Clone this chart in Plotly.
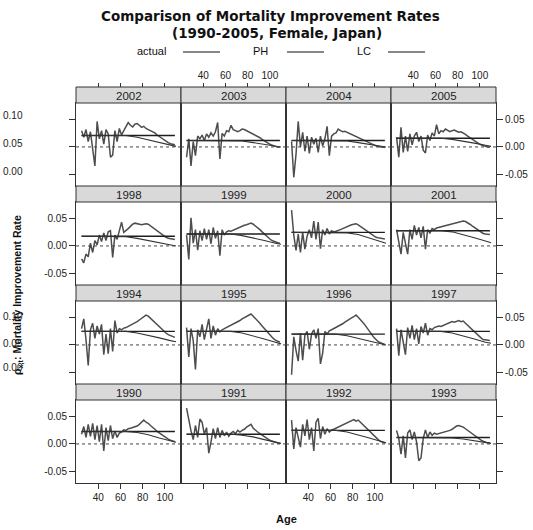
import plotly.graph_objects as go

# ---------------- data ----------------
ages = list(range(25, 110, 2))  # 25,27,...,109 (43 ages)
lc_ages = [25, 65, 75, 85, 95, 105, 110]
ph_ages = [25, 109]

panel_years = [[2002, 2003, 2004, 2005],
               [1998, 1999, 2000, 2001],
               [1994, 1995, 1996, 1997],
               [1990, 1991, 1992, 1993]]

x_ticks = [40, 60, 80, 100]
y_ticks = [-0.05, 0.0, 0.05]
y_tick_text = ["-0.05", "0.00", "0.05"]

actual_1990 = [0.018, 0.032, 0.012, 0.036, 0.014, 0.038, 0.008, 0.034, 0.004, 0.036,
               -0.013, 0.030, 0.006, 0.034, 0.010, 0.024, 0.012, 0.020, 0.022, 0.026,
               0.025, 0.028, 0.029, 0.030, 0.031, 0.033, 0.036, 0.041, 0.044, 0.040,
               0.038, 0.034, 0.031, 0.027, 0.023, 0.020, 0.017, 0.014, 0.011, 0.009,
               0.007, 0.005, 0.004]
actual_1991 = [0.066, 0.042, 0.024, 0.008, 0.034, 0.012, 0.046, 0.040, 0.018, 0.030,
               -0.017, 0.004, 0.028, 0.010, 0.030, 0.012, 0.025, 0.015, 0.022, 0.014,
               0.020, 0.023, 0.019, 0.025, 0.022, 0.025, 0.027, 0.031, 0.034, 0.036,
               0.029, 0.025, 0.022, 0.019, 0.016, 0.013, 0.010, 0.008, 0.006, 0.004,
               0.003, 0.002, 0.001]
actual_1992 = [0.044, -0.009, 0.030, 0.010, -0.006, 0.036, 0.015, 0.045, 0.008, 0.030,
               -0.013, 0.040, 0.047, 0.010, 0.032, 0.018, 0.028, 0.022, 0.026, 0.027,
               0.029, 0.031, 0.033, 0.035, 0.037, 0.039, 0.041, 0.043, 0.045, 0.042,
               0.044, 0.040, 0.036, 0.032, 0.027, 0.023, 0.019, 0.015, 0.011, 0.008,
               0.005, 0.003, 0.002]
actual_1993 = [0.025, 0.010, -0.019, 0.015, -0.026, 0.020, 0.026, 0.008, 0.022, 0.004,
               -0.031, -0.026, 0.010, 0.026, 0.012, 0.022, 0.016, 0.020, 0.018, 0.019,
               0.020, 0.021, 0.022, 0.023, 0.025, 0.027, 0.030, 0.033, 0.034, 0.033,
               0.031, 0.028, 0.025, 0.021, 0.018, 0.015, 0.012, 0.009, 0.007, 0.005,
               0.003, 0.002, 0.002]
actual_1994 = [0.030, 0.048, 0.010, -0.038, 0.028, 0.040, 0.012, 0.035, 0.020, 0.038,
               -0.018, 0.020, -0.016, 0.030, -0.012, 0.045, 0.022, 0.030, 0.028, 0.031,
               0.032, 0.034, 0.036, 0.038, 0.040, 0.043, 0.046, 0.049, 0.052, 0.055,
               0.053, 0.049, 0.045, 0.041, 0.037, 0.033, 0.029, 0.025, 0.022, 0.019,
               0.017, 0.015, 0.014]
actual_1995 = [0.032, -0.022, 0.030, 0.008, -0.045, 0.028, 0.015, 0.038, 0.010, 0.030,
               0.048, 0.012, 0.035, 0.018, 0.030, 0.024, 0.028, 0.030, 0.032, 0.034,
               0.036, 0.038, 0.040, 0.042, 0.045, 0.048, 0.050, 0.052, 0.055, 0.057,
               0.053, 0.049, 0.045, 0.040, 0.035, 0.030, 0.025, 0.020, 0.016, 0.012,
               0.009, 0.007, 0.005]
actual_1996 = [-0.055, 0.015, -0.010, -0.030, 0.022, -0.028, 0.018, 0.025, -0.008, 0.020,
               0.028, 0.012, 0.030, -0.035, -0.015, 0.025, 0.020, 0.026, 0.028, 0.030,
               0.032, 0.034, 0.036, 0.039, 0.042, 0.045, 0.048, 0.050, 0.052, 0.055,
               0.051, 0.047, 0.042, 0.037, 0.031, 0.025, 0.019, 0.014, 0.010, 0.006,
               0.004, 0.002, 0.001]
actual_1997 = [0.030, -0.020, 0.028, 0.005, -0.018, 0.032, 0.012, 0.036, 0.010, 0.030,
               0.002, 0.034, 0.022, 0.040, 0.018, 0.030, 0.028, 0.032, 0.034, 0.035,
               0.034, 0.036, 0.038, 0.039, 0.041, 0.043, 0.042, 0.044, 0.045, 0.043,
               0.044, 0.040, 0.036, 0.032, 0.028, 0.024, 0.020, 0.016, 0.013, 0.010,
               0.009, 0.008, 0.008]
actual_1998 = [-0.024, -0.031, -0.015, -0.020, 0.005, -0.012, 0.010, 0.002, 0.020, 0.008,
               0.024, 0.010, 0.026, 0.028, -0.021, 0.020, 0.012, 0.030, 0.044, 0.025,
               0.028, 0.032, 0.036, 0.040, 0.042, 0.041, 0.040, 0.039, 0.040, 0.041,
               0.040, 0.037, 0.034, 0.030, 0.027, 0.024, 0.021, 0.018, 0.016, 0.014,
               0.013, 0.012, 0.012]
actual_1999 = [0.020, -0.025, 0.052, 0.005, 0.030, -0.008, 0.028, 0.010, 0.032, 0.012,
               0.030, 0.004, 0.034, 0.014, 0.028, -0.018, 0.030, 0.020, 0.026, 0.028,
               0.027, 0.029, 0.031, 0.033, 0.035, 0.036, 0.038, 0.039, 0.040, 0.042,
               0.040, 0.037, 0.034, 0.030, 0.026, 0.022, 0.018, 0.014, 0.011, 0.009,
               0.007, 0.006, 0.005]
actual_2000 = [0.066, 0.020, -0.008, 0.022, -0.012, 0.025, -0.006, 0.018, 0.030, 0.015,
               0.046, 0.012, 0.044, -0.005, 0.030, 0.020, 0.032, 0.022, 0.028, 0.026,
               0.027, 0.028, 0.030, 0.032, 0.034, 0.036, 0.038, 0.039, 0.040, 0.041,
               0.039, 0.036, 0.033, 0.030, 0.027, 0.024, 0.021, 0.018, 0.016, 0.015,
               0.014, 0.013, 0.013]
actual_2001 = [0.030, 0.010, -0.015, 0.025, 0.005, -0.015, 0.030, 0.012, 0.038, 0.020,
               0.034, 0.015, 0.036, -0.006, 0.030, 0.024, 0.032, 0.030, 0.033, 0.034,
               0.035, 0.036, 0.037, 0.039, 0.040, 0.041, 0.042, 0.043, 0.044, 0.045,
               0.046, 0.045, 0.043, 0.040, 0.037, 0.034, 0.031, 0.028, 0.025, 0.023,
               0.022, 0.021, 0.021]
actual_2002 = [0.030, 0.018, 0.032, 0.010, 0.028, -0.010, -0.035, 0.047, 0.015, 0.030,
               0.005, 0.032, 0.024, -0.019, -0.015, 0.030, 0.010, 0.034, 0.022, 0.030,
               0.038, 0.045, 0.040, 0.037, 0.042, 0.043, 0.040, 0.036, 0.038, 0.034,
               0.032, 0.030, 0.029, 0.026, 0.022, 0.019, 0.016, 0.013, 0.010, 0.008,
               0.006, 0.005, 0.004]
actual_2003 = [-0.019, 0.015, -0.035, 0.010, -0.016, 0.020, 0.015, 0.022, 0.012, 0.024,
               0.018, 0.026, 0.020, 0.028, 0.045, -0.022, 0.025, 0.020, 0.030, 0.028,
               0.040, 0.032, 0.030, 0.028, 0.030, 0.033, 0.032, 0.030, 0.028, 0.026,
               0.024, 0.022, 0.020, 0.017, 0.014, 0.011, 0.008, 0.006, 0.004, 0.002,
               0.001, 0.000, 0.000]
actual_2004 = [0.010, -0.056, -0.014, 0.047, 0.000, 0.027, -0.008, 0.020, -0.012, 0.018,
               0.005, 0.016, -0.010, 0.020, 0.002, 0.015, 0.038, -0.016, 0.020, 0.024,
               0.026, 0.033, 0.030, 0.028, 0.029, 0.027, 0.026, 0.024, 0.021, 0.019,
               0.017, 0.015, 0.013, 0.011, 0.009, 0.007, 0.005, 0.004, 0.002, 0.001,
               0.000, 0.000, -0.001]
actual_2005 = [0.018, -0.019, 0.036, -0.010, 0.020, -0.008, 0.024, 0.004, 0.020, 0.027,
               0.010, 0.020, -0.006, -0.011, 0.022, 0.012, 0.026, 0.020, 0.041, 0.024,
               0.030, 0.028, 0.033, 0.030, 0.028, 0.030, 0.031, 0.029, 0.027, 0.028,
               0.026, 0.023, 0.020, 0.017, 0.014, 0.011, 0.008, 0.006, 0.004, 0.002,
               0.001, 0.000, 0.000]

ph_level = {1990: 0.023, 1991: 0.018, 1992: 0.025, 1993: 0.012,
            1994: 0.025, 1995: 0.025, 1996: 0.020, 1997: 0.025,
            1998: 0.018, 1999: 0.022, 2000: 0.025, 2001: 0.028,
            2002: 0.021, 2003: 0.012, 2004: 0.012, 2005: 0.016}

lc_1990 = [0.023, 0.023, 0.021, 0.017, 0.011, 0.005, 0.003]
lc_1991 = [0.018, 0.018, 0.016, 0.013, 0.008, 0.003, 0.001]
lc_1992 = [0.025, 0.025, 0.022, 0.017, 0.011, 0.005, 0.002]
lc_1993 = [0.012, 0.012, 0.011, 0.009, 0.006, 0.002, 0.001]
lc_1994 = [0.025, 0.025, 0.022, 0.018, 0.013, 0.008, 0.006]
lc_1995 = [0.025, 0.025, 0.022, 0.017, 0.011, 0.005, 0.002]
lc_1996 = [0.020, 0.020, 0.017, 0.012, 0.007, 0.002, 0.000]
lc_1997 = [0.025, 0.025, 0.022, 0.017, 0.011, 0.005, 0.003]
lc_1998 = [0.018, 0.017, 0.014, 0.010, 0.006, 0.002, 0.000]
lc_1999 = [0.022, 0.022, 0.019, 0.015, 0.010, 0.005, 0.003]
lc_2000 = [0.025, 0.025, 0.024, 0.021, 0.015, 0.008, 0.005]
lc_2001 = [0.028, 0.028, 0.026, 0.021, 0.015, 0.009, 0.006]
lc_2002 = [0.021, 0.021, 0.018, 0.013, 0.008, 0.003, 0.001]
lc_2003 = [0.012, 0.012, 0.011, 0.008, 0.005, 0.002, 0.000]
lc_2004 = [0.012, 0.012, 0.011, 0.008, 0.005, 0.002, 0.000]
lc_2005 = [0.016, 0.016, 0.014, 0.011, 0.007, 0.003, 0.001]

actual = {1990: actual_1990, 1991: actual_1991, 1992: actual_1992, 1993: actual_1993,
          1994: actual_1994, 1995: actual_1995, 1996: actual_1996, 1997: actual_1997,
          1998: actual_1998, 1999: actual_1999, 2000: actual_2000, 2001: actual_2001,
          2002: actual_2002, 2003: actual_2003, 2004: actual_2004, 2005: actual_2005}
lc = {1990: lc_1990, 1991: lc_1991, 1992: lc_1992, 1993: lc_1993,
      1994: lc_1994, 1995: lc_1995, 1996: lc_1996, 1997: lc_1997,
      1998: lc_1998, 1999: lc_1999, 2000: lc_2000, 2001: lc_2001,
      2002: lc_2002, 2003: lc_2003, 2004: lc_2004, 2005: lc_2005}

# ---------------- layout ----------------
W, H = 533, 530
L, T = 76, 87          # left / top of the panel grid (px)
CW, RH, SH = 105, 99, 16
XR = [20, 114.5]
YR = [-0.072, 0.081]
FONT = "Liberation Sans, Arial, Helvetica, sans-serif"
TFONT = "DejaVu Sans, Liberation Sans, sans-serif"
tick_font = dict(family=FONT, size=10, color="#222222")
frame = "#333333"

fig = go.Figure()
layout = dict(width=W, height=H, margin=dict(l=0, r=0, t=0, b=0),
              paper_bgcolor="white", plot_bgcolor="white", showlegend=False)
shapes, annotations = [], []


def note(text, xp, yp, size=10, xanchor="center", angle=0, color="#111111", family=FONT):
    annotations.append(dict(text=text, xref="paper", yref="paper", x=xp / W, y=1 - yp / H,
                            xanchor=xanchor, yanchor="middle", showarrow=False,
                            textangle=angle,
                            font=dict(family=family, size=size, color=color)))


for r in range(4):
    for c in range(4):
        n = r * 4 + c + 1
        s = "" if n == 1 else str(n)
        yr = panel_years[r][c]
        x0 = L + c * CW
        x1 = x0 + CW
        st = T + r * RH
        pt = st + SH
        pb = st + RH

        xa = dict(domain=[x0 / W, x1 / W], range=XR, anchor="y" + s,
                  showgrid=False, zeroline=False, showline=True, mirror=True,
                  linecolor=frame, linewidth=1, tickvals=x_ticks, ticks="",
                  showticklabels=False, tickfont=tick_font)
        if r == 3:
            xa.update(ticks="outside", ticklen=5, tickcolor=frame,
                      showticklabels=(c in (0, 2)))
        ya = dict(domain=[1 - pb / H, 1 - pt / H], range=YR, anchor="x" + s,
                  showgrid=False, zeroline=False, showline=True, mirror=True,
                  linecolor=frame, linewidth=1, tickvals=y_ticks, ticktext=y_tick_text,
                  ticks="", showticklabels=False, tickfont=tick_font)
        if c == 0:
            ya.update(ticks="outside", ticklen=6, tickcolor=frame, side="left",
                      showticklabels=(r in (1, 3)))
        if c == 3:
            ya.update(ticks="outside", ticklen=6, tickcolor=frame, side="right",
                      showticklabels=(r in (0, 2)))
        layout["xaxis" + s] = xa
        layout["yaxis" + s] = ya

        # strip
        shapes.append(dict(type="rect", xref="paper", yref="paper",
                           x0=x0 / W, x1=x1 / W, y0=1 - pt / H, y1=1 - st / H,
                           fillcolor="#d9d9d9", line=dict(color=frame, width=1), layer="above"))
        note(str(yr), (x0 + x1) / 2, st + SH / 2 + 0.5, size=11.5, color="#222222")
        # zero reference line
        shapes.append(dict(type="line", xref="x" + s + " domain", yref="y" + s,
                           x0=0, x1=1, y0=0, y1=0,
                           line=dict(color="#444444", width=1, dash="dot")))

        fig.add_trace(go.Scatter(x=ages, y=actual[yr], mode="lines", xaxis="x" + s, yaxis="y" + s,
                                 line=dict(color="#4d4d4d", width=1.5), hoverinfo="skip"))
        fig.add_trace(go.Scatter(x=ph_ages, y=[ph_level[yr]] * len(ph_ages), mode="lines",
                                 xaxis="x" + s, yaxis="y" + s,
                                 line=dict(color="#1e1e1e", width=1.4), hoverinfo="skip"))
        fig.add_trace(go.Scatter(x=lc_ages, y=lc[yr], mode="lines", xaxis="x" + s, yaxis="y" + s,
                                 line=dict(color="#333333", width=1.1), hoverinfo="skip"))

# top tick axes above the strips of the top row
for c in range(4):
    n = 17 + c
    base = "" if c == 0 else str(c + 1)
    layout["xaxis%d" % n] = dict(overlaying="x" + base, anchor="free", position=1 - T / H,
                                 side="top", range=XR, tickvals=x_ticks, ticks="outside",
                                 ticklen=4, tickcolor=frame, showticklabels=(c in (1, 3)),
                                 showline=False, showgrid=False, zeroline=False,
                                 tickfont=tick_font)
    fig.add_trace(go.Scatter(x=[None], y=[None], xaxis="x%d" % n, yaxis="y" + base,
                             mode="lines", hoverinfo="skip"))

# titles
note("<b>Comparison of Mortality Improvement Rates</b>", 270, 16, size=13.5, family=TFONT)
note("<b>(1990-2005, Female, Japan)</b>", 277, 33, size=13.5, family=TFONT)
# key: label followed by a line sample
for label, tx, lx0, lx1 in [("actual", 168, 183, 220), ("PH", 270, 287, 324), ("LC", 373, 388, 425)]:
    note(label, tx, 51, size=11, xanchor="right")
    shapes.append(dict(type="line", xref="paper", yref="paper", x0=lx0 / W, x1=lx1 / W,
                       y0=1 - 52 / H, y1=1 - 52 / H, line=dict(color="#111111", width=1)))

# axis titles
note("<b>Age</b>", 286, 519, size=11)
note("<b>ρ<sub>x,t</sub>: Mortality Improvement Rate</b>", 18, 295, size=10.5, angle=-90)
# stray tick labels at the far left (as in the reference)
for txt, yy in [("0.10", 116), ("0.05", 144), ("0.00", 171), ("0.10", 316), ("0.05", 343), ("0.00", 367)]:
    note(txt, 1, yy, size=10, xanchor="left", color="#222222")

layout["shapes"] = shapes
layout["annotations"] = annotations
fig.update_layout(**layout)
fig.write_html("out.html")
